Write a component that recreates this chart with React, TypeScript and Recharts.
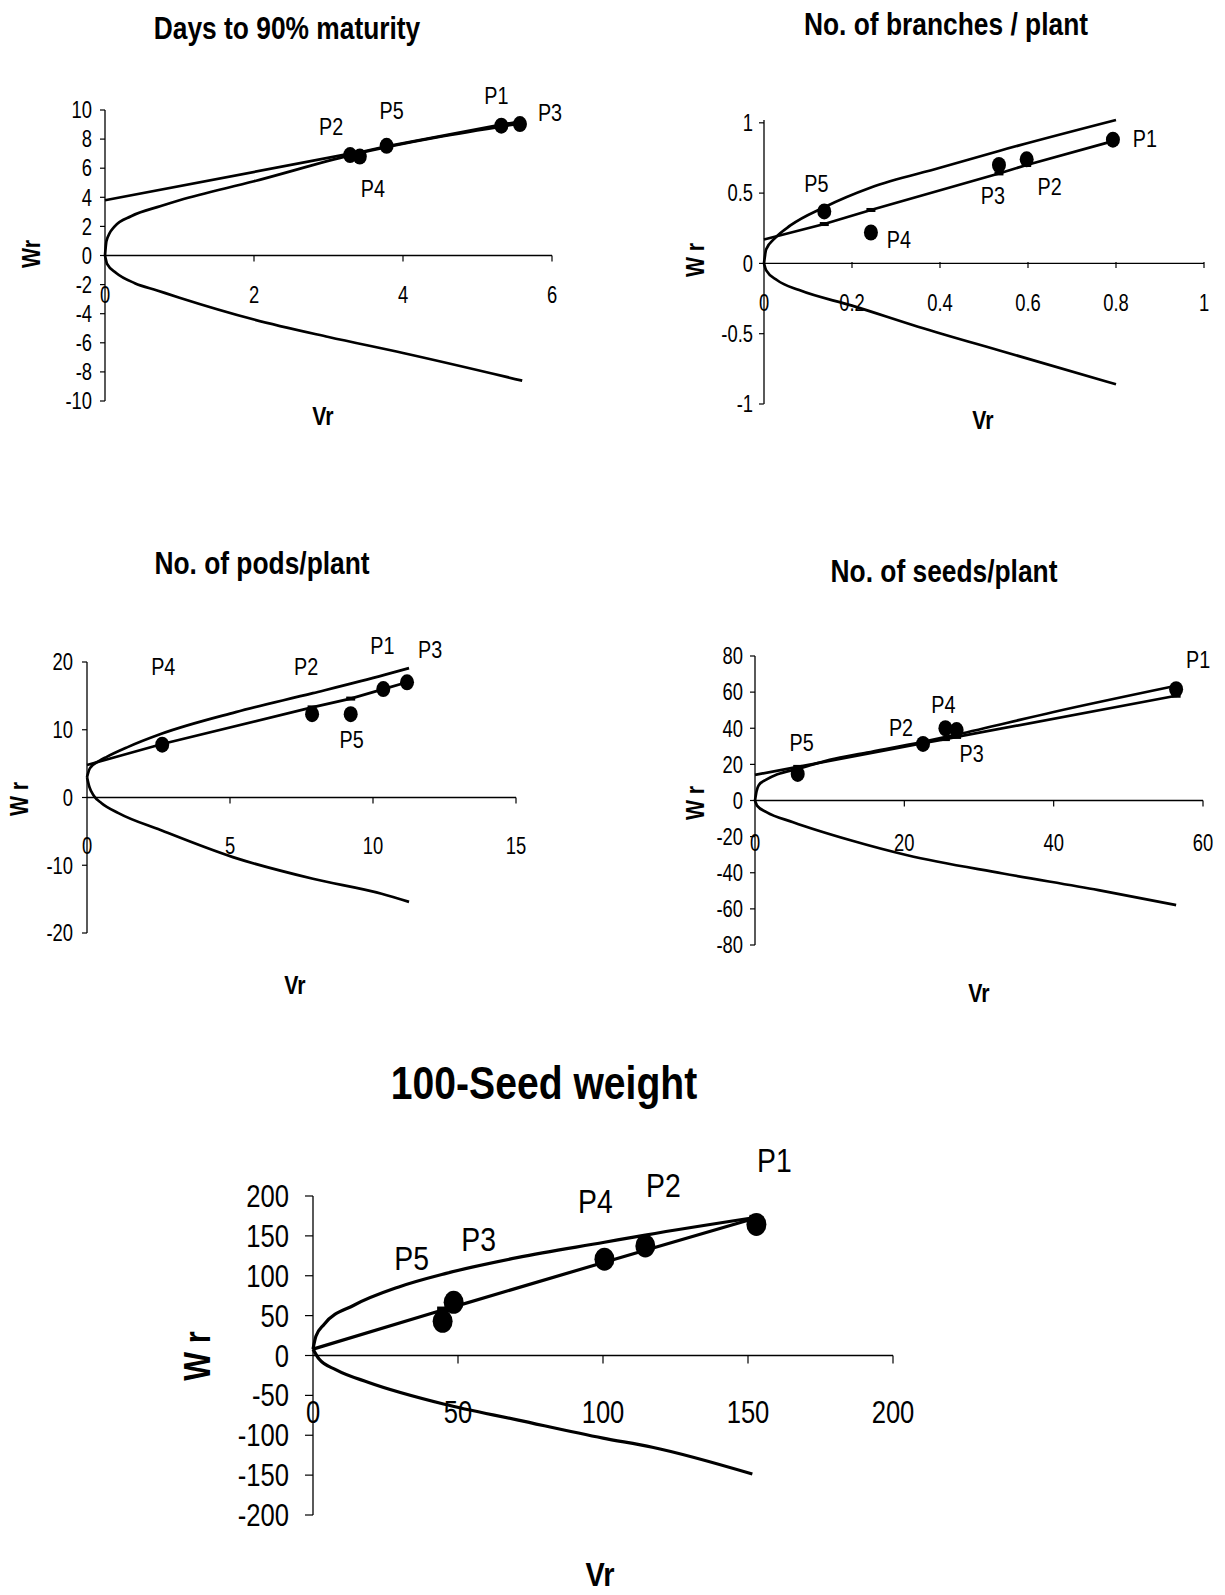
import React from 'react';
import { ComposedChart, Line, Scatter, XAxis, YAxis, ReferenceLine } from 'recharts';

const FONT = "'Liberation Sans', Arial, sans-serif";
const SQUEEZE = 0.8;

const parents = ['P1', 'P2', 'P3', 'P4', 'P5'];

// Days to 90% maturity
const vr1 = [5.32, 3.29, 5.57, 3.42, 3.78];
const wr1 = [8.92, 6.9, 9.03, 6.8, 7.54];
const regVr1 = [0, 3.29, 3.42, 3.78, 5.32, 5.57];
const regWr1 = [3.8, 7.0, 7.1, 7.5, 9.0, 9.2];
const upVr1 = [0, 0.02, 0.13, 0.35, 0.75, 1.0, 2.0, 3.3, 5.6];
const upWr1 = [0, 1.0, 2.0, 2.7, 3.4, 3.8, 5.1, 6.9, 9.1];
const loVr1 = [0, 0.03, 0.15, 0.4, 0.7, 1.0, 2.0, 3.0, 4.0, 5.6];
const loWr1 = [0, -0.6, -1.2, -1.9, -2.4, -2.9, -4.4, -5.6, -6.7, -8.6];
const xTicks1 = [0, 2, 4, 6];
const yTicks1 = [-10, -8, -6, -4, -2, 0, 2, 4, 6, 8, 10];

// No. of branches / plant
const vr2 = [0.793, 0.597, 0.534, 0.243, 0.137];
const wr2 = [0.88, 0.74, 0.7, 0.22, 0.37];
const regVr2 = [0, 0.137, 0.243, 0.534, 0.597, 0.793];
const regWr2 = [0.17, 0.28, 0.38, 0.64, 0.7, 0.87];
const upVr2 = [0, 0.005, 0.025, 0.06, 0.137, 0.243, 0.4, 0.534, 0.8];
const upWr2 = [0, 0.1, 0.18, 0.27, 0.4, 0.54, 0.68, 0.8, 1.02];
const loVr2 = [0, 0.005, 0.03, 0.08, 0.2, 0.35, 0.547, 0.8];
const loWr2 = [0, -0.05, -0.12, -0.19, -0.3, -0.45, -0.63, -0.86];
const xTicks2 = [0, 0.2, 0.4, 0.6, 0.8, 1];
const yTicks2 = [-1, -0.5, 0, 0.5, 1];

// No. of pods/plant
const vr3 = [10.36, 7.87, 11.19, 2.63, 9.22];
const wr3 = [16.0, 12.3, 17.0, 7.8, 12.3];
const regVr3 = [0, 2.63, 7.87, 9.22, 10.36, 11.19];
const regWr3 = [4.8, 7.9, 13.3, 14.6, 16.0, 17.0];
const upVr3 = [0, 0.1, 0.43, 0.69, 1.4, 2.6, 5.2, 7.9, 10.4, 11.26];
const upWr3 = [3.0, 4.3, 5.4, 6.0, 7.4, 9.4, 12.6, 15.4, 18.1, 19.1];
const loVr3 = [0, 0.08, 0.25, 0.5, 1.1, 2.57, 5.1, 7.9, 10.3, 11.26];
const loWr3 = [3.0, 1.6, 0.2, -0.8, -2.3, -4.8, -8.8, -12.0, -14.2, -15.4];
const xTicks3 = [0, 5, 10, 15];
const yTicks3 = [-20, -10, 0, 10, 20];

// No. of seeds/plant
const vr4 = [56.4, 22.5, 27.0, 25.5, 5.72];
const wr4 = [61.6, 31.3, 39.0, 40.0, 14.7];
const regVr4 = [0, 5.72, 22.5, 25.5, 27.0, 56.4];
const regWr4 = [14.2, 18.6, 31.7, 34.0, 35.2, 58.0];
const upVr4 = [0, 0.2, 0.5, 1.5, 3, 5.72, 10, 15, 22.5, 27, 40, 56.4];
const upWr4 = [0, 5, 8.5, 11.5, 14.5, 17.5, 22.5, 26.5, 32.5, 36.5, 49, 63.5];
const loVr4 = [0, 0.3, 1.53, 5.1, 12.8, 20.4, 33.2, 46, 56.4];
const loWr4 = [0, -3, -6.4, -12, -22, -30.3, -40.4, -49.6, -57.9];
const xTicks4 = [0, 20, 40, 60];
const yTicks4 = [-80, -60, -40, -20, 0, 20, 40, 60, 80];

// 100-Seed weight
const vr5 = [152.9, 114.6, 48.5, 100.5, 44.7];
const wr5 = [164.4, 137.4, 66.7, 120.7, 42.8];
const regVr5 = [0, 44.7, 48.5, 100.5, 114.6, 152.4];
const regWr5 = [8, 57, 61, 117, 132, 172];
const upVr5 = [0, 1, 3.8, 14.1, 29.6, 45.9, 70.8, 100.5, 114.6, 152.4];
const upWr5 = [8, 24, 39, 63, 86, 103, 123, 142, 151, 173];
const loVr5 = [0, 2.1, 8, 19.2, 45, 70.8, 100, 117, 151.5];
const loWr5 = [8, -4.5, -18, -33.8, -60.8, -81, -103.6, -115, -148.6];
const xTicks5 = [0, 50, 100, 150, 200];
const yTicks5 = [-200, -150, -100, -50, 0, 50, 100, 150, 200];

const zip = (vr: number[], wr: number[], names?: string[]) =>
  vr.map((v, i) => ({ vr: v, wr: wr[i], name: names ? names[i] : '' }));

const panels = [
  {
    title: 'Days to 90% maturity', yLabel: 'Wr',
    points: zip(vr1, wr1, parents), reg: zip(regVr1, regWr1), upper: zip(upVr1, upWr1), lower: zip(loVr1, loWr1),
    xTicks: xTicks1, yTicks: yTicks1,
    box: { left: 0, top: 60, width: 600, height: 400 }, plot: { x0: 105, x1: 552, y0: 110, y1: 401 },
    titlePos: [287, 28], yLabelPos: [31, 254], xLabelPos: [323, 416], xTickY: 295,
    small: true,
    offsets: { P1: [-5, -29], P2: [-19, -28], P3: [30, -11], P4: [13, 33], P5: [5, -34] } as Record<string, number[]>,
    tickMargin: 8,
  },
  {
    title: 'No. of branches / plant', yLabel: 'W r',
    points: zip(vr2, wr2, parents), reg: zip(regVr2, regWr2), upper: zip(upVr2, upWr2), lower: zip(loVr2, loWr2),
    xTicks: xTicks2, yTicks: yTicks2,
    box: { left: 620, top: 60, width: 605, height: 400 }, plot: { x0: 764, x1: 1204, y0: 120, y1: 404 },
    titlePos: [946, 24], yLabelPos: [695, 260], xLabelPos: [983, 420], xTickY: 303,
    small: true,
    offsets: { P1: [32, 0], P2: [23, 28], P3: [-6, 32], P4: [28, 8], P5: [-8, -27] } as Record<string, number[]>,
    tickMargin: 6,
  },
  {
    title: 'No. of pods/plant', yLabel: 'W r',
    points: zip(vr3, wr3, parents), reg: zip(regVr3, regWr3), upper: zip(upVr3, upWr3), lower: zip(loVr3, loWr3),
    xTicks: xTicks3, yTicks: yTicks3,
    box: { left: 0, top: 600, width: 600, height: 400 }, plot: { x0: 87, x1: 516, y0: 662, y1: 933 },
    titlePos: [262, 563], yLabelPos: [19, 799], xLabelPos: [295, 985], xTickY: 846,
    small: true,
    offsets: { P1: [-1, -43], P2: [-6, -47], P3: [23, -32], P4: [1, -77], P5: [1, 26] } as Record<string, number[]>,
    tickMargin: 9,
  },
  {
    title: 'No. of seeds/plant', yLabel: 'W r',
    points: zip(vr4, wr4, parents), reg: zip(regVr4, regWr4), upper: zip(upVr4, upWr4), lower: zip(loVr4, loWr4),
    xTicks: xTicks4, yTicks: yTicks4,
    box: { left: 620, top: 600, width: 605, height: 400 }, plot: { x0: 755, x1: 1203, y0: 656, y1: 945 },
    titlePos: [944, 571], yLabelPos: [695, 803], xLabelPos: [979, 993], xTickY: 843,
    small: true,
    offsets: { P1: [22, -29], P2: [-22, -15], P3: [15, 24], P4: [-2, -23], P5: [4, -30] } as Record<string, number[]>,
    tickMargin: 7,
  },
  {
    title: '100-Seed weight', yLabel: 'W r',
    points: zip(vr5, wr5, parents), reg: zip(regVr5, regWr5), upper: zip(upVr5, upWr5), lower: zip(loVr5, loWr5),
    xTicks: xTicks5, yTicks: yTicks5,
    box: { left: 150, top: 1120, width: 850, height: 440 }, plot: { x0: 313, x1: 893, y0: 1196, y1: 1515 },
    titlePos: [544, 1083], yLabelPos: [198, 1356], xLabelPos: [600, 1574], xTickY: 1412,
    small: false,
    offsets: { P1: [18, -64], P2: [18, -60], P3: [25, -63], P4: [-9, -58], P5: [-31, -63] } as Record<string, number[]>,
    tickMargin: 16,
  },
];

type Panel = typeof panels[number];

const ChartPanel = ({ p }: { p: Panel }) => {
  const { box, plot } = p;
  const xMin = p.xTicks[0];
  const xMax = p.xTicks[p.xTicks.length - 1];
  const yMin = p.yTicks[0];
  const yMax = p.yTicks[p.yTicks.length - 1];
  const tickFont = p.small ? 23 : 32;
  const labelFont = p.small ? 23 : 33;
  const rx = p.small ? 7 : 10;
  const ry = p.small ? 8 : 11.5;
  const xAxisH = 20;
  const zeroY = plot.y0 - box.top + (yMax / (yMax - yMin)) * (plot.y1 - plot.y0);
  const labelY = p.xTickY - box.top;

  const xTick = (props: any) => {
    const { x, payload } = props;
    return (
      <g>
        {payload.value !== 0 && (
          <line x1={x} x2={x} y1={zeroY} y2={zeroY + (p.small ? 6 : 8)} stroke="#000" strokeWidth={1.2} />
        )}
        <g transform={`translate(${x},${labelY}) scale(${SQUEEZE},1)`}>
          <text x={0} y={0} textAnchor="middle" dominantBaseline="central" fontSize={tickFont} fontFamily={FONT} fill="#000">
            {payload.value}
          </text>
        </g>
      </g>
    );
  };

  const yTick = (props: any) => {
    const { x, y, payload } = props;
    return (
      <g transform={`translate(${x},${y}) scale(${SQUEEZE},1)`}>
        <text x={0} y={0} textAnchor="end" dominantBaseline="central" fontSize={tickFont} fontFamily={FONT} fill="#000">
          {payload.value}
        </text>
      </g>
    );
  };

  const dash = (props: any) => {
    const { cx, cy, index, payload } = props;
    if (payload.vr === 0) return <g key={`d${index}`} />;
    const w = p.small ? 9 : 11;
    const h = p.small ? 4 : 7;
    return <rect key={`d${index}`} x={cx - w / 2} y={cy - h / 2} width={w} height={h} fill="#000" />;
  };

  const dot = (props: any) => {
    const { cx, cy, payload } = props;
    const off = p.offsets[payload.name] || [0, 0];
    return (
      <g>
        <ellipse cx={cx} cy={cy} rx={rx} ry={ry} fill="#000" />
        <g transform={`translate(${cx + off[0]},${cy + off[1]}) scale(0.86,1)`}>
          <text x={0} y={0} textAnchor="middle" dominantBaseline="central" fontSize={labelFont} fontFamily={FONT} fill="#000">
            {payload.name}
          </text>
        </g>
      </g>
    );
  };

  const lineW = p.small ? 2.7 : 3.2;

  return (
    <div style={{ position: 'absolute', left: box.left, top: box.top, width: box.width, height: box.height }}>
      <ComposedChart
        width={box.width}
        height={box.height}
        margin={{
          top: plot.y0 - box.top,
          right: box.left + box.width - plot.x1,
          bottom: box.top + box.height - plot.y1 - xAxisH,
          left: 0,
        }}
        style={{ overflow: 'visible' }}
      >
        <XAxis
          type="number"
          dataKey="vr"
          domain={[xMin, xMax]}
          ticks={p.xTicks}
          interval={0}
          axisLine={false}
          tickLine={false}
          height={xAxisH}
          tick={xTick}
        />
        <YAxis
          type="number"
          dataKey="wr"
          domain={[yMin, yMax]}
          ticks={p.yTicks}
          interval={0}
          width={plot.x0 - box.left}
          tickSize={p.small ? 5 : 8}
          tickMargin={p.tickMargin}
          axisLine={{ stroke: '#000', strokeWidth: 1.3 }}
          tickLine={{ stroke: '#000', strokeWidth: 1.2 }}
          tick={yTick}
        />
        <ReferenceLine y={0} stroke="#000" strokeWidth={1.4} />
        <Line data={p.upper} dataKey="wr" type="monotone" stroke="#000" strokeWidth={lineW} dot={false} activeDot={false} isAnimationActive={false} />
        <Line data={p.lower} dataKey="wr" type="monotone" stroke="#000" strokeWidth={lineW} dot={false} activeDot={false} isAnimationActive={false} />
        <Line data={p.reg} dataKey="wr" type="linear" stroke="#000" strokeWidth={lineW} dot={dash} activeDot={false} isAnimationActive={false} />
        <Scatter data={p.points} dataKey="wr" shape={dot} isAnimationActive={false} />
      </ComposedChart>
    </div>
  );
};

const textStyle = (x: number, y: number, size: number, rotate = false): React.CSSProperties => ({
  position: 'absolute',
  left: x,
  top: y,
  transform: `translate(-50%, -50%)${rotate ? ' rotate(-90deg)' : ''} scaleX(0.85)`,
  fontFamily: FONT,
  fontWeight: 'bold',
  fontSize: size,
  lineHeight: 1,
  whiteSpace: 'nowrap',
  color: '#000',
});

export default function App() {
  return (
    <div style={{ position: 'absolute', left: 0, top: 0, width: 1225, height: 1595, background: '#fff', overflow: 'hidden' }}>
      {panels.map((p, i) => (
        <React.Fragment key={i}>
          <ChartPanel p={p} />
          <div style={textStyle(p.titlePos[0], p.titlePos[1], p.small ? 31 : 46)}>{p.title}</div>
          <div style={textStyle(p.yLabelPos[0], p.yLabelPos[1], p.small ? 25 : 36, true)}>{p.yLabel}</div>
          <div style={textStyle(p.xLabelPos[0], p.xLabelPos[1], p.small ? 25 : 34)}>Vr</div>
        </React.Fragment>
      ))}
    </div>
  );
}
